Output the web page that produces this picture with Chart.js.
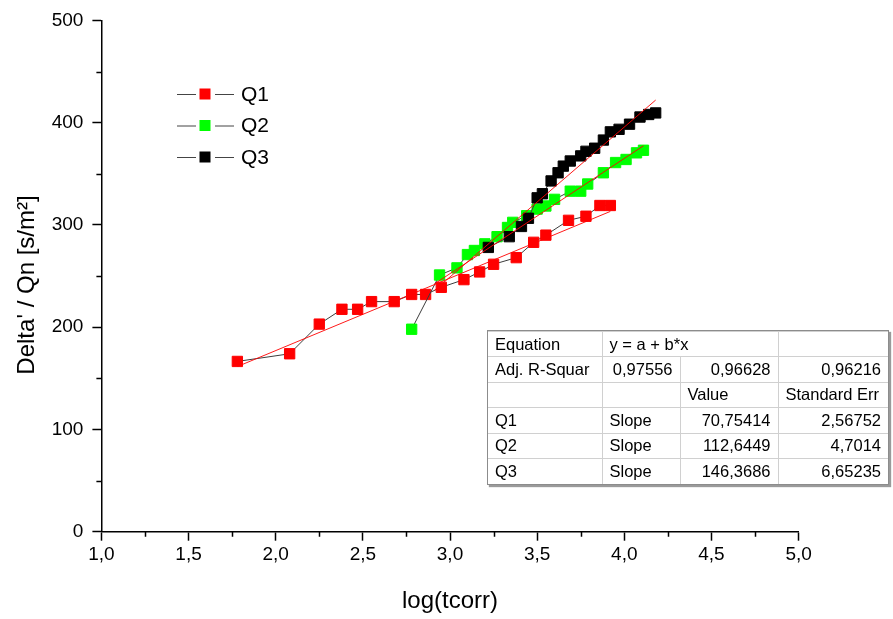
<!DOCTYPE html>
<html>
<head>
<meta charset="utf-8">
<script src="https://cdn.jsdelivr.net/npm/chart.js@4.4.1/dist/chart.umd.min.js"></script>
<style>
body { margin: 0; background: #fff; }
#wrap { position: relative; width: 893px; height: 619px; }
#tbl { position: absolute; left: 487px; top: 330px; border: 1px solid #8c8c8c; box-shadow: 2px 2px 1px #9a9a9a; background: #fff; }
#tbl table { border-collapse: collapse; font: 16.5px 'Liberation Sans', Arial, sans-serif; color: #000; }
#tbl td { border: 1px solid #d0d0d0; padding: 0 7px; white-space: nowrap; }
#tbl tr { height: 25.4px; }
#tbl tr:first-child td { border-top: none; }
#tbl tr:last-child td { border-bottom: none; }
#tbl td:first-child { border-left: none; }
#tbl td:last-child { border-right: none; }
#tbl td.r { text-align: right; }
</style>
</head>
<body>
<div id="wrap">
  <canvas id="myChart" width="893" height="619"></canvas>
  <div id="tbl"></div>
</div>
<script>
// 數據：三組量測
const q1X = [1.78, 2.08, 2.25, 2.38, 2.47, 2.55, 2.68, 2.78, 2.86, 2.95, 3.08, 3.17, 3.25, 3.38, 3.48, 3.55, 3.68, 3.78, 3.86, 3.92];
const q1Y = [166.5, 174, 203, 217.5, 217.5, 225, 225, 232, 232, 239, 246.5, 254, 261.5, 268, 283, 290, 304.5, 308.5, 319, 319];

const q2X = [2.78, 2.94, 3.04, 3.10, 3.14, 3.20, 3.27, 3.33, 3.36, 3.44, 3.50, 3.55, 3.60, 3.69, 3.75, 3.79, 3.88, 3.95, 4.01, 4.07, 4.11];
const q2Y = [198, 251, 258, 271, 275, 281.5, 288.5, 297.5, 302.5, 309, 315.5, 318.5, 325, 333, 333, 340, 351, 361, 364, 370.5, 373];

const q3X = [3.22, 3.34, 3.41, 3.45, 3.50, 3.53, 3.58, 3.62, 3.65, 3.69, 3.75, 3.78, 3.83, 3.88, 3.92, 3.97, 4.03, 4.09, 4.14, 4.18];
const q3Y = [278, 288.5, 298.5, 306.5, 326.5, 330.5, 343, 351, 357.5, 362.5, 367.5, 372, 375, 383, 391, 393.5, 398.5, 405.5, 408, 409.5];

// 擬合直線端點
const fit1X = [1.78, 3.92], fit1Y = [161.5, 313.2];
const fit2X = [2.91, 4.11], fit2Y = [242.2, 377.4];
const fit3X = [2.91, 4.18], fit3Y = [235.9, 422.1];

const seriesNames = ['Q1', 'Q2', 'Q3'];
const seriesColors = ['#ff0000', '#00ff00', '#000000'];

// 刻度標籤
const xTickLabels = ['1,0', '1,5', '2,0', '2,5', '3,0', '3,5', '4,0', '4,5', '5,0'];
const yTickLabels = ['0', '100', '200', '300', '400', '500'];
const xMinorTicks = [1.25, 1.75, 2.25, 2.75, 3.25, 3.75, 4.25, 4.75];
const yMinorTicks = [50, 150, 250, 350, 450];

const xTitle = 'log(tcorr)';
const yTitle = "Delta' / Qn [s/m²]";

// 表格內容
const tableRows = [
    [['Equation', ''], ['y = a + b*x', '', 2], ['', '']],
    [['Adj. R-Squar', ''], ['0,97556', 'r'], ['0,96628', 'r'], ['0,96216', 'r']],
    [['', ''], ['', ''], ['Value', ''], ['Standard Err', '']],
    [['Q1', ''], ['Slope', ''], ['70,75414', 'r'], ['2,56752', 'r']],
    [['Q2', ''], ['Slope', ''], ['112,6449', 'r'], ['4,7014', 'r']],
    [['Q3', ''], ['Slope', ''], ['146,3686', 'r'], ['6,65235', 'r']]
];
const colWidths = [114, 78, 98, 110];

const FONT = "'Liberation Sans', Arial, sans-serif";

function toPoints(xs, ys) {
    return xs.map((x, i) => ({ x: x, y: ys[i] }));
}

function dataSet(i, xs, ys, order) {
    return {
        label: seriesNames[i],
        data: toPoints(xs, ys),
        showLine: true,
        borderColor: '#3c3c3c',
        borderWidth: 1,
        pointStyle: 'rect',
        pointRadius: 7.3,
        pointBackgroundColor: seriesColors[i],
        pointBorderColor: seriesColors[i],
        pointBorderWidth: 1,
        order: order
    };
}

function fitSet(xs, ys) {
    return {
        label: 'fit',
        data: toPoints(xs, ys),
        showLine: true,
        borderColor: 'rgba(255, 0, 0, 0.9)',
        borderWidth: 1,
        pointRadius: 0,
        order: 0
    };
}

// 次刻度、圖例、軸標題
const decorPlugin = {
    id: 'decor',
    afterDraw(chart) {
        const { ctx, scales: { x, y } } = chart;
        ctx.save();
        ctx.strokeStyle = '#000';
        ctx.lineWidth = 1.5;
        ctx.beginPath();
        xMinorTicks.forEach(v => {
            const px = Math.round(x.getPixelForValue(v)) + 0.5;
            ctx.moveTo(px, y.bottom);
            ctx.lineTo(px, y.bottom + 5);
        });
        yMinorTicks.forEach(v => {
            const py = Math.round(y.getPixelForValue(v)) + 0.5;
            ctx.moveTo(x.left, py);
            ctx.lineTo(x.left - 5, py);
        });
        ctx.stroke();

        // 圖例
        const rows = [94, 125.5, 157];
        ctx.font = '21px ' + FONT;
        ctx.textBaseline = 'middle';
        seriesNames.forEach((name, i) => {
            const ry = rows[i];
            ctx.strokeStyle = '#444';
            ctx.lineWidth = 1;
            ctx.beginPath();
            ctx.moveTo(177, ry + 0.5); ctx.lineTo(196, ry + 0.5);
            ctx.moveTo(215, ry + 0.5); ctx.lineTo(234, ry + 0.5);
            ctx.stroke();
            ctx.fillStyle = seriesColors[i];
            ctx.fillRect(199.5, ry - 5.5, 11, 11);
            ctx.fillStyle = '#000';
            ctx.textAlign = 'left';
            ctx.fillText(name, 241, ry + 1);
        });

        // 軸標題
        ctx.font = '24px ' + FONT;
        ctx.textAlign = 'center';
        ctx.fillText(xTitle, (x.left + x.right) / 2, 601);
        ctx.translate(27, 285);
        ctx.rotate(-Math.PI / 2);
        ctx.fillText(yTitle, 0, 0);
        ctx.restore();
    }
};

const axisBase = {
    grid: { display: true, drawOnChartArea: false, drawTicks: true, tickLength: 9, tickWidth: 1.5, tickColor: '#000' },
    border: { display: true, color: '#000', width: 1.5 }
};

const ctx = document.getElementById('myChart').getContext('2d');
const myChart = new Chart(ctx, {
    type: 'scatter',
    data: {
        datasets: [
            fitSet(fit1X, fit1Y),
            fitSet(fit2X, fit2Y),
            fitSet(fit3X, fit3Y),
            dataSet(2, q3X, q3Y, 1),
            dataSet(1, q2X, q2Y, 2),
            dataSet(0, q1X, q1Y, 3)
        ]
    },
    options: {
        responsive: false,
        animation: false,
        devicePixelRatio: 1,
        layout: { padding: { left: 0, right: 94.4, top: 19, bottom: 0 } },
        plugins: { legend: { display: false }, tooltip: { enabled: false } },
        scales: {
            x: {
                ...axisBase,
                type: 'linear',
                min: 1, max: 5,
                ticks: {
                    stepSize: 0.5, padding: 3, color: '#000',
                    font: { family: FONT, size: 19 },
                    callback: (v, i) => xTickLabels[i]
                },
                afterFit: s => { s.height = 87.3; }
            },
            y: {
                ...axisBase,
                min: 0, max: 500,
                ticks: {
                    stepSize: 100, padding: 9, color: '#000',
                    font: { family: FONT, size: 19 },
                    callback: (v, i) => yTickLabels[i]
                },
                afterFit: s => { s.width = 101.4; }
            }
        }
    },
    plugins: [decorPlugin]
});

// 建立表格
const tbl = document.createElement('table');
const cg = document.createElement('colgroup');
colWidths.forEach(w => {
    const c = document.createElement('col');
    c.style.width = w + 'px';
    cg.appendChild(c);
});
tbl.appendChild(cg);
tableRows.forEach(row => {
    const tr = document.createElement('tr');
    row.forEach(cell => {
        const td = document.createElement('td');
        td.textContent = cell[0];
        if (cell[1]) td.className = cell[1];
        if (cell[2]) td.colSpan = cell[2];
        tr.appendChild(td);
    });
    tbl.appendChild(tr);
});
document.getElementById('tbl').appendChild(tbl);
</script>
</body>
</html>
